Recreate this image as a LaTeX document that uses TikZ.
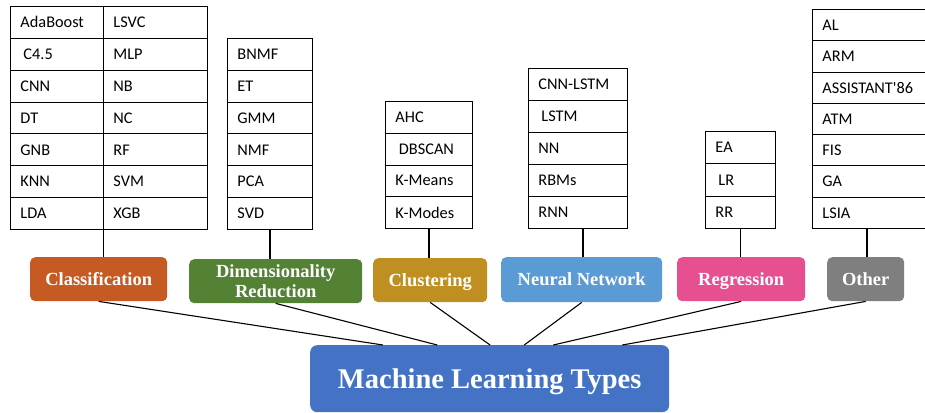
\documentclass[tikz,border=0pt]{standalone}
\usepackage{fontspec}
\setmainfont{Liberation Serif}
\newfontfamily\cellfont{Carlito}
\usetikzlibrary{calc}
\definecolor{cClass}{HTML}{C55A22}
\definecolor{cDim}{HTML}{548235}
\definecolor{cClus}{HTML}{BF8F22}
\definecolor{cNN}{HTML}{5B9BD5}
\definecolor{cReg}{HTML}{E65091}
\definecolor{cOther}{HTML}{7F7F7F}
\definecolor{cMain}{HTML}{4472C4}
\begin{document}
\begin{tikzpicture}[x=1pt,y=-1pt,
  cell/.style={draw, line width=0.9pt, anchor=north west, inner xsep=10pt, inner ysep=0pt,
    align=left, font=\cellfont\fontsize{16.3}{18}\selectfont},
  cat/.style={rounded corners=5pt, text=white, font=\bfseries\fontsize{18.5}{20}\selectfont,
    align=center, inner sep=0pt, anchor=north west},
  oneline/.style={text height=12.3pt, text depth=0pt},
  link/.style={line width=1.1pt}]
\useasboundingbox (0,0) rectangle (925,412);
\clip (0,0) rectangle (925,412);

% Classification table
\foreach \t [count=\i] in {AdaBoost,\hspace{3pt}C4.5,CNN,DT,GNB,KNN,LDA}
  \node[cell, text width=73pt, minimum height=31.86pt] (cl\i) at (10,{6+(\i-1)*31.86}) {\t};
\foreach \t [count=\i] in {LSVC,MLP,NB,NC,RF,SVM,XGB}
  \node[cell, text width=84pt, minimum height=31.86pt] (cr\i) at (103,{6+(\i-1)*31.86}) {\t};
% Dimensionality table
\foreach \t [count=\i] in {BNMF,ET,GMM,NMF,PCA,SVD}
  \node[cell, text width=65pt, minimum height=31.83pt] (dm\i) at (227,{38+(\i-1)*31.83}) {\t};
% Clustering table
\foreach \t [count=\i] in {AHC,\hspace{3.5pt}DBSCAN,K-Means,K-Modes}
  \node[cell, text width=67pt, minimum height=31.75pt] (cu\i) at (385,{101+(\i-1)*31.75}) {\t};
% Neural network table
\foreach \t [count=\i] in {CNN-LSTM,\hspace{3pt}LSTM,NN,RBMs,RNN}
  \node[cell, text width=79pt, minimum height=32pt] (nn\i) at (528,{68+(\i-1)*32}) {\t};
% Regression table
\foreach \t [count=\i] in {EA,\hspace{3pt}LR,RR}
  \node[cell, text width=50pt, minimum height=32.33pt] (rg\i) at (705,{131+(\i-1)*32.33}) {\t};
% Other table
\foreach \t [count=\i] in {AL,ARM,{ASSISTANT{\char"0027}86},ATM,FIS,GA,LSIA}
  \node[cell, text width=103pt, minimum height=31.29pt] (ot\i) at (812,{9+(\i-1)*31.29}) {\t};

% Category boxes
\node[cat, oneline, fill=cClass, minimum width=137pt, minimum height=44pt] (cls) at (30,257) {Classification};
\node[cat, fill=cDim, minimum width=173pt, minimum height=44pt] (dim) at (189,259) {Dimensionality\\Reduction};
\node[cat, oneline, fill=cClus, minimum width=114pt, minimum height=44pt] (clu) at (373,258) {Clustering};
\node[cat, oneline, fill=cNN, minimum width=161pt, minimum height=45pt] (nnc) at (501,257) {Neural Network};
\node[cat, oneline, fill=cReg, minimum width=128pt, minimum height=44pt] (reg) at (677,257) {Regression};
\node[cat, oneline, fill=cOther, minimum width=77pt, minimum height=44pt] (oth) at (827,257) {Other};

% Main box
\node[cat, fill=cMain, rounded corners=7pt, minimum width=359pt, minimum height=67pt,
  font=\bfseries\fontsize{28.5}{30}\selectfont, text height=19pt, text depth=0pt] (main) at (310,345) {Machine Learning Types};

% Table to category connectors
\draw[link] (cl7.south east) -- (cl7.south east |- cls.north);
\draw[link] (dm6.south) -- (dm6.south |- dim.north);
\draw[link] (cu4.south) -- (cu4.south |- clu.north);
\draw[link] ($(nn5.south)+(5,0)$) coordinate (nnb) -- (nnb |- nnc.north);
\draw[link] (rg3.south) -- (rg3.south |- reg.north);
\draw[link] ($(ot7.south west)+(55,0)$) coordinate (otb) -- (otb |- oth.north);

% Category to main connectors
\draw[link] (cls.south) -- ($(main.north west)!0.203!(main.north east)$);
\draw[link] (dim.south) -- ($(main.north west)!0.354!(main.north east)$);
\draw[link] (clu.south) -- ($(main.north west)!0.501!(main.north east)$);
\draw[link] (nnc.south) -- ($(main.north west)!0.596!(main.north east)$);
\draw[link] (reg.south) -- ($(main.north west)!0.677!(main.north east)$);
\draw[link] (oth.south) -- ($(main.north west)!0.869!(main.north east)$);
\end{tikzpicture}
\end{document}
